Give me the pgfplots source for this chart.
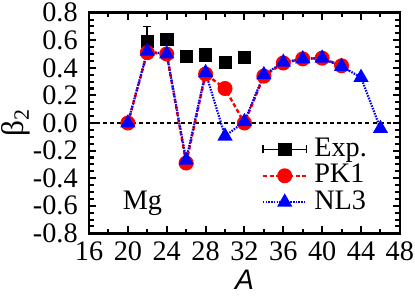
\documentclass[border=0pt]{standalone}
\usepackage{fontspec}
\setmainfont{Liberation Serif}
\newfontfamily\sansfont{Liberation Sans}
\usepackage{pgfplots}
\pgfplotsset{compat=1.18}

\pgfplotsset{
  linelegend/.style={legend image code/.code={\draw[mark repeat=2,mark phase=2,##1] plot coordinates {(0bp,0bp) (21.5bp,0bp) (43bp,0bp)}; \path (49bp,0bp);}},
  explegend/.style={legend image code/.code={
    \draw[black, line width=1.6bp] (0bp,0bp) -- (43bp,0bp);
    \draw[black, line width=1.6bp] (0bp,-4bp) -- (0bp,4bp);
    \draw[black, line width=1.6bp] (43bp,-4bp) -- (43bp,4bp);
    \fill[black] (15.5bp,-6bp) rectangle (27.5bp,6bp);
    \path (49bp,0bp);}},
}

\pgfplotstableread{
A y ey
22 0.59 0.11
24 0.61 0.00
26 0.485 0.00
28 0.495 0.03
30 0.44 0.00
32 0.48 0.035
}\expdata

\pgfplotstableread{
A y
20 0.00
22 0.51
24 0.50
26 -0.29
28 0.355
30 0.25
32 0.00
34 0.34
36 0.435
38 0.465
40 0.47
42 0.415
}\pkdata

\pgfplotstableread{
A y
20 0.00
22 0.52
24 0.50
26 -0.27
28 0.365
30 -0.095
32 0.01
34 0.35
36 0.44
38 0.465
40 0.47
42 0.41
44 0.33
46 -0.04
}\nldata

\begin{document}
\fontsize{28}{32}\selectfont
\begin{tikzpicture}
\begin{axis}[
  scale only axis, width=307bp, height=218bp,
  xmin=16, xmax=48, ymin=-0.8, ymax=0.8,
  xtick={16,20,...,48}, minor x tick num=1,
  ytick={-0.8,-0.6,-0.4,-0.2,0,0.2,0.4,0.6,0.8}, minor y tick num=3,
  xticklabel={\rmfamily\pgfmathprintnumber[assume math mode=true]{\tick}},
  yticklabel={\rmfamily\pgfmathprintnumber[fixed, fixed zerofill, precision=1, assume math mode=true]{\tick}},
  tick label style={font=\fontsize{28}{32}\selectfont\rmfamily, inner sep=1bp},
  xticklabel style={yshift=-7bp},
  yticklabel style={xshift=-10bp},
  axis line style={line width=2.4bp},
  every tick/.style={black, line width=2bp},
  major tick length=7bp, minor tick length=4.5bp,
  tick align=inside,
  xlabel={\sansfont\itshape A},
  ylabel={β\textsubscript{2}},
  xlabel style={font=\fontsize{28}{32}\selectfont, inner sep=1bp, at={(rel axis cs:0.5,-0.21)}, anchor=center},
  ylabel style={font=\fontsize{31}{34}\selectfont, inner sep=1bp, at={(rel axis cs:-0.237,0.5)}, anchor=center},
  legend style={draw=none, fill=none, at={(0.555,0.435)}, anchor=north west,
    font=\fontsize{28}{30}\selectfont, row sep=2.5bp, inner sep=0pt,
    nodes={inner sep=0.5bp}},
  legend cell align=left,
]
\addplot[black, dashed, line width=1.6bp, forget plot, dash pattern=on 4bp off 3bp] coordinates {(16,0) (48,0)};

\addplot[black, only marks, mark=square*, mark size=6bp, forget plot,
  error bars/.cd, y dir=both, y explicit,
  error bar style={line width=1.6bp},
  error mark options={rotate=90, mark size=4bp, line width=1.6bp}]
  table[x=A, y=y, y error=ey] {\expdata};
\addlegendimage{explegend}

\addplot[red, line width=2.4bp, dash pattern=on 4bp off 2.5bp,
  mark=*, mark size=6.2bp, mark options={solid, fill=red}, linelegend]
  table[x=A, y=y] {\pkdata};

\addplot[blue, line width=2.2bp, dash pattern=on 1.5bp off 1.2bp,
  mark=triangle*, mark size=6.5bp, mark options={solid, fill=blue}, linelegend]
  table[x=A, y=y] {\nldata};

\legend{Exp.,PK1,NL3}
\node at (axis cs:21.5,-0.585) {Mg};
\end{axis}
\path ([yshift=2bp]current bounding box.north) ([yshift=-5bp]current bounding box.south);
\end{tikzpicture}
\end{document}
